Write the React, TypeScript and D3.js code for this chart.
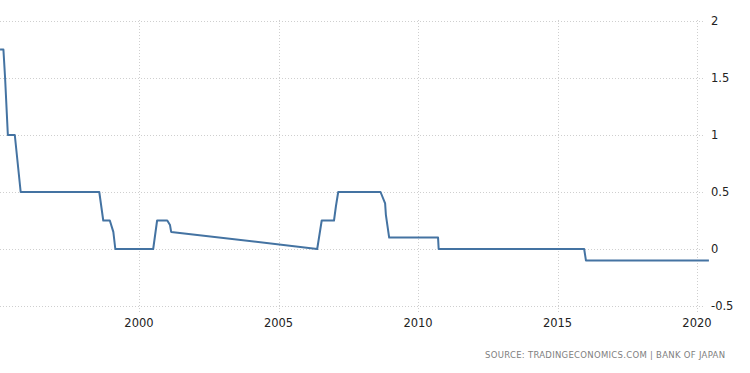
import { useEffect, useRef } from "react";
import * as d3 from "d3";

const W = 750;
const H = 373;

const dates = [
  "1995-01-08", "1995-02-21", "1995-03-15", "1995-04-20", "1995-07-20", "1995-10-05",
  "1998-07-30", "1998-09-20", "1998-12-15", "1999-01-30", "1999-02-25",
  "2000-07-05", "2000-08-25", "2001-01-05", "2001-02-10", "2001-02-25",
  "2006-05-22", "2006-07-20", "2006-12-28", "2007-01-22", "2007-02-21",
  "2008-08-28", "2008-10-27", "2008-11-06", "2008-12-19",
  "2010-09-20", "2010-09-28", "2015-12-16", "2016-01-08", "2020-06-05",
];
const rates = [
  1.75, 1.75, 1.5, 1.0, 1.0, 0.5,
  0.5, 0.25, 0.25, 0.15, 0,
  0, 0.25, 0.25, 0.21, 0.15,
  0, 0.25, 0.25, 0.375, 0.5,
  0.5, 0.4, 0.3, 0.1,
  0.1, 0, 0, -0.1, -0.1,
];
const yTicks = [-0.5, 0, 0.5, 1, 1.5, 2];
const xTickYears = [2000, 2005, 2010, 2015, 2020];
const source = "SOURCE: TRADINGECONOMICS.COM | BANK OF JAPAN";

export default function App() {
  const gRef = useRef<SVGGElement>(null);

  useEffect(() => {
    document.body.style.margin = "0";
    if (!gRef.current) return;
    const g = d3.select(gRef.current);
    g.selectAll("*").remove();

    const parse = d3.timeParse("%Y-%m-%d");
    const data = dates.map((d, i) => ({ date: parse(d) as Date, value: rates[i] }));

    const x = d3
      .scaleTime()
      .domain([new Date(2000, 0, 1), new Date(2020, 0, 1)])
      .range([139, 697]);
    const y = d3.scaleLinear().domain([-0.5, 2]).range([306, 21]);

    // horizontal grid
    g.append("g")
      .selectAll("line")
      .data(yTicks)
      .join("line")
      .attr("x1", 0)
      .attr("x2", 705)
      .attr("y1", (d) => Math.round(y(d)) + 0.5)
      .attr("y2", (d) => Math.round(y(d)) + 0.5)
      .attr("stroke", "#cfcfcf")
      .attr("stroke-dasharray", "1,2");

    // vertical grid
    const xTicks = xTickYears.map((yr) => new Date(yr, 0, 1));
    g.append("g")
      .selectAll("line")
      .data(xTicks)
      .join("line")
      .attr("x1", (d) => Math.round(x(d)) + 0.5)
      .attr("x2", (d) => Math.round(x(d)) + 0.5)
      .attr("y1", 20)
      .attr("y2", 312)
      .attr("stroke", "#cfcfcf")
      .attr("stroke-dasharray", "1,2");

    // y labels
    g.append("g")
      .selectAll("text")
      .data(yTicks)
      .join("text")
      .attr("x", 711)
      .attr("y", (d) => y(d))
      .attr("dy", "0.35em")
      .attr("font-family", "DejaVu Sans, sans-serif")
      .attr("font-size", 11.5)
      .attr("fill", "#222")
      .text((d) => String(d));

    // x labels
    g.append("g")
      .selectAll("text")
      .data(xTicks)
      .join("text")
      .attr("x", (d) => x(d))
      .attr("y", 323)
      .attr("dy", "0.35em")
      .attr("text-anchor", "middle")
      .attr("font-family", "DejaVu Sans, sans-serif")
      .attr("font-size", 11.5)
      .attr("fill", "#222")
      .text((d) => d3.timeFormat("%Y")(d));

    // line
    const line = d3
      .line<{ date: Date; value: number }>()
      .x((d) => x(d.date))
      .y((d) => y(d.value));

    g.append("path")
      .datum(data)
      .attr("fill", "none")
      .attr("stroke", "#4473a2")
      .attr("stroke-width", 2)
      .attr("stroke-linejoin", "round")
      .attr("d", line);

    // source
    g.append("text")
      .attr("x", 485)
      .attr("y", 358)
      .attr("textLength", 240)
      .attr("font-family", "DejaVu Sans, sans-serif")
      .attr("font-size", 8.5)
      .attr("fill", "#808080")
      .text(source);
  }, []);

  return (
    <svg
      width={W}
      height={H}
      style={{ position: "absolute", left: 0, top: 0, display: "block", background: "#fff" }}
    >
      <g ref={gRef} />
    </svg>
  );
}
